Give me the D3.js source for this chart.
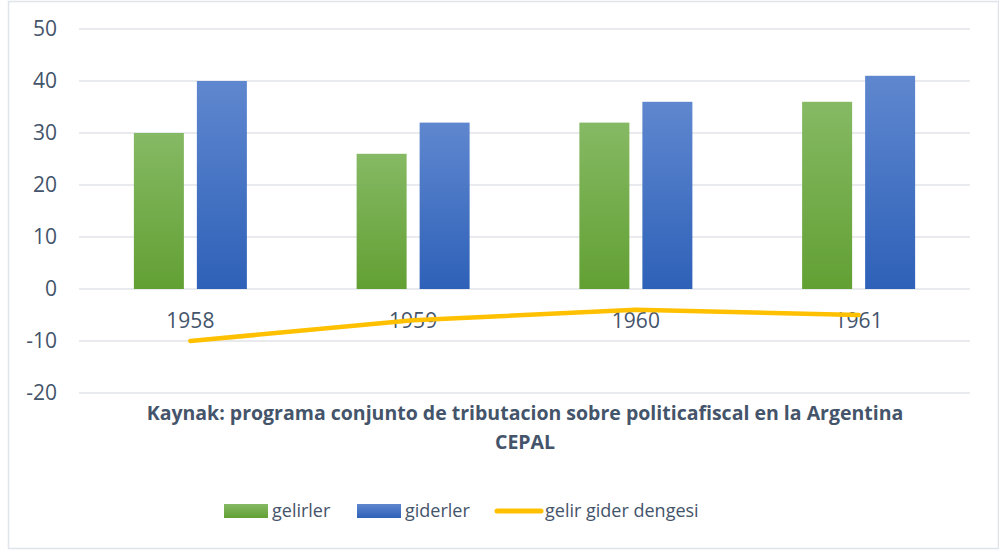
<!DOCTYPE html>
<html>
<head>
<meta charset="utf-8">
<script src="https://cdn.jsdelivr.net/npm/d3@7"></script>
<style>
  body { margin: 0; background: #fff; }
  text { font-family: "Open Sans", sans-serif; fill: #44546a; }
</style>
</head>
<body>
<script>
// chart data
const years = ["1958", "1959", "1960", "1961"];
const gelirler = [30, 26, 32, 36];
const giderler = [40, 32, 36, 41];
const denge = [-10, -6, -4, -5];
const yTicks = [50, 40, 30, 20, 10, 0, -10, -20];
const seriesNames = ["gelirler", "giderler", "gelir gider dengesi"];

var width = 999, height = 550;
var svg = d3.select("body").append("svg").attr("width", width).attr("height", height);

var defs = svg.append("defs");
function grad(id, c1, c2) {
  var g = defs.append("linearGradient").attr("id", id)
    .attr("x1", 0).attr("y1", 0).attr("x2", 0).attr("y2", 1);
  g.append("stop").attr("offset", "0%").attr("stop-color", c1);
  g.append("stop").attr("offset", "100%").attr("stop-color", c2);
}
grad("gGreen", "#86b964", "#62a033");
grad("gBlue", "#5f87cf", "#2e61b8");

// outer frame
svg.append("rect").attr("x", 8.5).attr("y", 1.5).attr("width", 990).attr("height", 547)
  .attr("fill", "none").attr("stroke", "#dfe3ea").attr("stroke-width", 1.5);

var x = d3.scaleBand().domain(years).range([79, 970]);
var y = d3.scaleLinear().domain([-20, 50]).range([393, 29]);

// gridlines
svg.append("g").selectAll("line").data(yTicks).enter().append("line")
  .attr("x1", 79).attr("x2", 970)
  .attr("y1", d => y(d)).attr("y2", d => y(d))
  .attr("stroke", "#e0e3e8").attr("stroke-width", 1.5);

// y labels
svg.append("g").selectAll("text").data(yTicks).enter().append("text")
  .attr("x", 57).attr("y", d => y(d)).attr("dy", "0.35em")
  .attr("text-anchor", "end").style("font-size", "21px")
  .text(d => d);

var barW = 50, gap = 13;
var groups = svg.append("g").selectAll("g").data(years).enter().append("g");
groups.append("rect")
  .attr("x", d => x(d) + x.bandwidth() / 2 - gap / 2 - barW)
  .attr("width", barW)
  .attr("y", (d, i) => y(gelirler[i]))
  .attr("height", (d, i) => y(0) - y(gelirler[i]))
  .attr("fill", "url(#gGreen)");
groups.append("rect")
  .attr("x", d => x(d) + x.bandwidth() / 2 + gap / 2)
  .attr("width", barW)
  .attr("y", (d, i) => y(giderler[i]))
  .attr("height", (d, i) => y(0) - y(giderler[i]))
  .attr("fill", "url(#gBlue)");

// category labels
svg.append("g").selectAll("text").data(years).enter().append("text")
  .attr("x", d => x(d) + x.bandwidth() / 2)
  .attr("y", 328)
  .attr("text-anchor", "middle").style("font-size", "21px")
  .text(d => d);

// balance line
var line = d3.line()
  .x((d, i) => x(years[i]) + x.bandwidth() / 2)
  .y(d => y(d));
svg.append("path").datum(denge).attr("d", line)
  .attr("fill", "none").attr("stroke", "#ffc000")
  .attr("stroke-width", 4.5).attr("stroke-linecap", "round").attr("stroke-linejoin", "round");

// source title
svg.append("text").attr("x", 525).attr("y", 420).attr("text-anchor", "middle")
  .style("font-size", "19.5px").style("font-weight", "bold")
  .text("Kaynak: programa conjunto de tributacion sobre politicafiscal en la Argentina");
svg.append("text").attr("x", 525).attr("y", 449).attr("text-anchor", "middle")
  .style("font-size", "19.5px").style("font-weight", "bold")
  .text("CEPAL");

// legend
var legendX = [224, 357, 495];
var leg = svg.append("g").selectAll("g").data(seriesNames).enter().append("g")
  .attr("transform", (d, i) => "translate(" + legendX[i] + ",0)");
leg.each(function (d, i) {
  var g = d3.select(this);
  if (i < 2) {
    g.append("rect").attr("x", 0).attr("y", 504).attr("width", 44).attr("height", 14)
      .attr("fill", i === 0 ? "url(#gGreen)" : "url(#gBlue)");
  } else {
    g.append("line").attr("x1", 2).attr("x2", 46).attr("y1", 511).attr("y2", 511)
      .attr("stroke", "#ffc000").attr("stroke-width", 5).attr("stroke-linecap", "round");
  }
  g.append("text").attr("x", i < 2 ? 48 : 50).attr("y", 511).attr("dy", "0.35em")
    .style("font-size", "18px").text(d);
});
</script>
</body>
</html>
